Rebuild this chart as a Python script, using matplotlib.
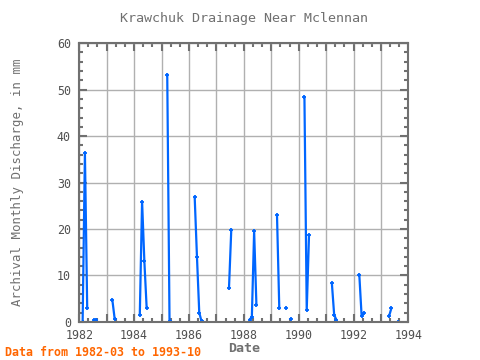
import numpy as np
import matplotlib
matplotlib.use('Agg')
import matplotlib.pyplot as plt
from matplotlib.ticker import MultipleLocator

# ---------------------------
# Data (monthly values, mm)
# ---------------------------
months = [
    "1982-02", "1982-03", "1982-04", "1982-07", "1982-08",
    "1983-03", "1983-04",
    "1984-03", "1984-04", "1984-05", "1984-06",
    "1985-03", "1985-04",
    "1986-03", "1986-04", "1986-05", "1986-06",
    "1987-06", "1987-07",
    "1988-03", "1988-04", "1988-05", "1988-06",
    "1989-03", "1989-04", "1989-07", "1989-09",
    "1990-03", "1990-04", "1990-05",
    "1991-03", "1991-04", "1991-05",
    "1992-03", "1992-04", "1992-05",
    "1993-04", "1993-05", "1993-08",
]
discharge = [
    0.0, 36.4, 2.9, 0.3, 0.5,
    4.7, 0.7,
    1.5, 25.9, 13.0, 3.0,
    53.2, 0.2,
    26.9, 14.0, 2.0, 0.1,
    7.2, 19.8,
    0.5, 1.0, 19.5, 3.6,
    23.0, 2.9, 2.9, 0.7,
    48.4, 2.5, 18.6,
    8.3, 1.5, 0.4,
    10.1, 1.3, 1.9,
    1.2, 2.9, 0.0,
]

title = "Krawchuk Drainage Near Mclennan"
note = "Data from 1982-03 to 1993-10"

# ---------------------------
# Build x positions (mid-month), break lines at missing months
# ---------------------------
xs, ys = [], []
prev = None
for m, v in zip(months, discharge):
    yr, mo = int(m[:4]), int(m[5:])
    idx = yr * 12 + mo
    if prev is not None and idx - prev > 1:
        xs.append(np.nan)
        ys.append(np.nan)
    xs.append(yr + (mo - 0.5) / 12)
    ys.append(v)
    prev = idx

# ---------------------------
# Plot
# ---------------------------
mono = "DejaVu Sans Mono"
grey = "#707070"

fig = plt.figure(figsize=(4.8, 3.6), dpi=100)
ax = fig.add_axes([0.165, 0.106, 0.686, 0.774])

ax.plot(xs, ys, color="#0066ff", lw=1.6, marker="+", ms=3, mew=1.3)

ax.set_xlim(1982, 1994)
ax.set_ylim(0, 60)

ax.set_xticks(range(1982, 1995))
ax.set_xticklabels([str(y) if y % 2 == 0 else "" for y in range(1982, 1995)])
ax.xaxis.set_minor_locator(MultipleLocator(1 / 3))
ax.yaxis.set_major_locator(MultipleLocator(10))
ax.yaxis.set_minor_locator(MultipleLocator(2))

ax.grid(True, which="major", color="#b0b0b0", lw=1)
ax.set_axisbelow(True)

ax.tick_params(which="both", direction="in", top=True, right=True,
               color=grey, labelcolor="#505050")
ax.tick_params(which="major", length=6, width=1.5)
ax.tick_params(which="minor", length=3, width=1.5)
ax.tick_params(axis="x", which="major", pad=5)
ax.tick_params(axis="y", which="major", pad=6)
for lab in ax.get_xticklabels() + ax.get_yticklabels():
    lab.set_family(mono)
    lab.set_fontsize(8.4)

for s in ax.spines.values():
    s.set_color(grey)
    s.set_linewidth(1.5)

ax.set_title(title, family=mono, fontsize=9.6, color=grey, pad=15)
ax.set_xlabel("Date", family=mono, fontsize=9.6, color=grey,
              fontweight="bold", labelpad=0)
ax.set_ylabel("Archival Monthly Discharge, in mm", family=mono, fontsize=8.9,
              color=grey, labelpad=24)

fig.text(0.01, 0.01, note, family=mono, fontsize=8.4, color="#ff6600",
         fontweight="bold")

fig.savefig("out.png", dpi=100)
